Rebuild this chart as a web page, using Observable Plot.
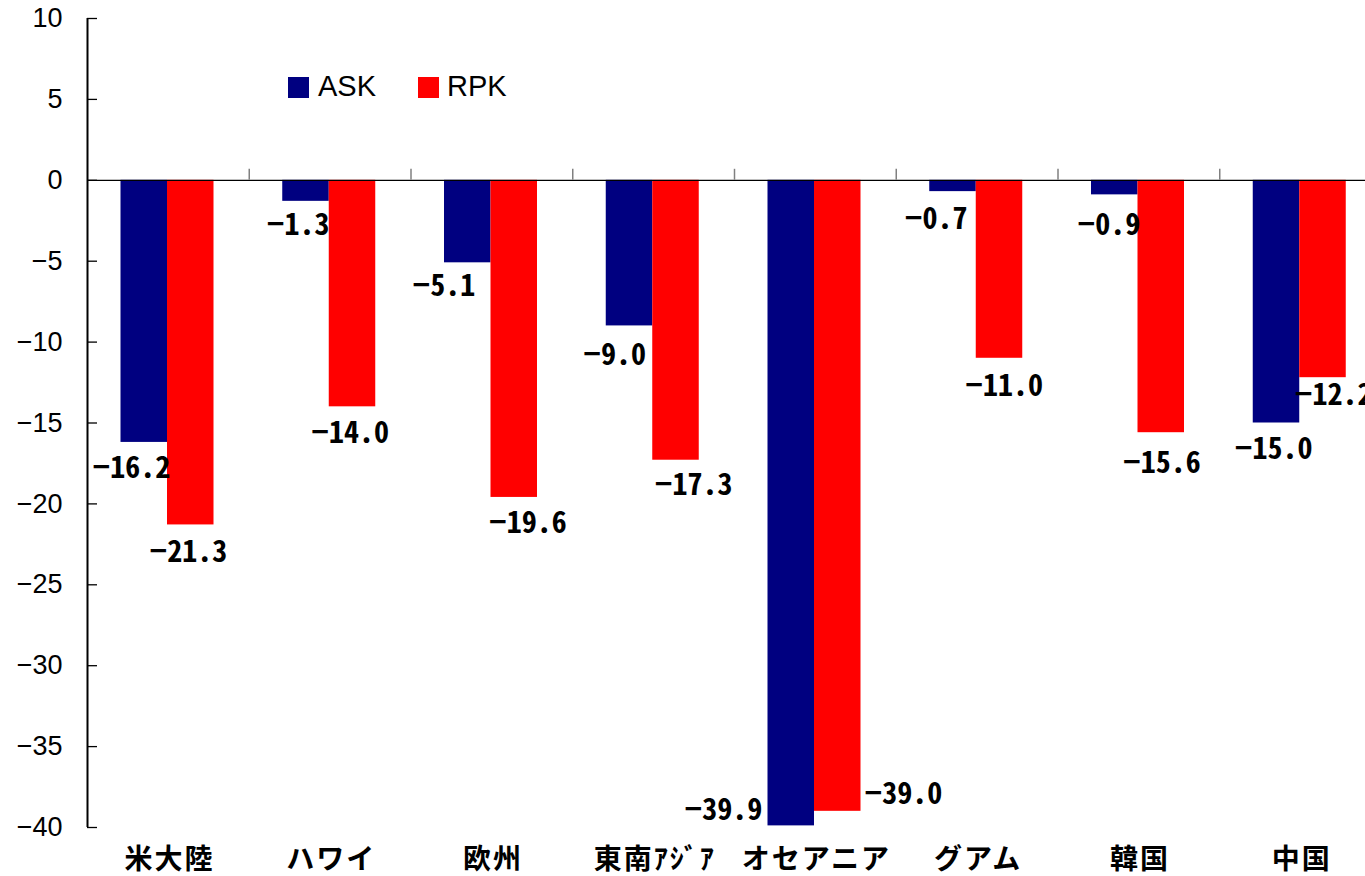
<!DOCTYPE html>
<html>
<head>
<meta charset="utf-8">
<script src="https://cdn.jsdelivr.net/npm/d3@7"></script>
<script src="https://cdn.jsdelivr.net/npm/@observablehq/plot@0.6"></script>
<style>
  html, body { margin: 0; padding: 0; background: #fff; overflow: hidden; }
  #wrap { position: relative; width: 1381px; height: 876px; }
  .key-swatch { position: absolute; width: 21px; height: 21px; }
  .key-label { position: absolute; font: 29px "Liberation Sans", Arial, sans-serif; line-height: 29px; color: #000; white-space: nowrap; }
  /* value labels use half-width digits */
  #wrap g[aria-label="text"] text { font-feature-settings: "hwid" 1; }
  #wrap g[aria-label="x-axis tick label"] text { letter-spacing: 2px; }
</style>
</head>
<body>
<div id="wrap"></div>
<script>
// Year-on-year change (%) by route region
const regions = ["米大陸", "ハワイ", "欧州", "東南ｱｼﾞｱ", "オセアニア", "グアム", "韓国", "中国"];
const askValues = [-16.2, -1.3, -5.1, -9.0, -39.9, -0.7, -0.9, -15.0];
const rpkValues = [-21.3, -14.0, -19.6, -17.3, -39.0, -11.0, -15.6, -12.2];
const seriesNames = ["ASK", "RPK"];
const seriesColors = ["#000080", "#ff0000"];
const yTicks = [10, 5, 0, -5, -10, -15, -20, -25, -30, -35, -40];
const yDomain = [-40, 10];

// Value-label nudges: [dx from the band centre, dy from the bar end], in px
const askLabelNudge = [[-37, 26], [-32, 24], [-48, 23.5], [-39, 29], [-92, -15], [-41, 28], [-30, 31], [-27, 26]];
const rpkLabelNudge = [[20, 27], [20, 26.5], [36, 26], [40, 25], [88, -17], [27, 28], [23, 31], [33, 18]];

// Layout
const W = 1381, H = 876;
const mL = 87, mR = 0, mT = 18, mB = 49;
const bw = (W - mL - mR) / regions.length;
const pxPerUnit = (H - mT - mB) / (yDomain[1] - yDomain[0]);
const barW = 46.5;
const groupLeft = 33.5;

const askRows = regions.map((region, i) => ({region, series: seriesNames[0], value: askValues[i]}));
const rpkRows = regions.map((region, i) => ({region, series: seriesNames[1], value: rpkValues[i]}));

const fmt = v => (v < 0 ? "\u2212" : "") + Math.abs(v).toFixed(1);
const valueFont = {fontFamily: "'Noto Sans CJK JP', sans-serif", fontWeight: "bold", fontSize: 30, fill: "#000"};

const labelMarks = [
  ...askRows.map((d, i) => Plot.text([d], {x: "region", y: "value", text: r => fmt(r.value),
    dx: askLabelNudge[i][0], dy: askLabelNudge[i][1], ...valueFont})),
  ...rpkRows.map((d, i) => Plot.text([d], {x: "region", y: "value", text: r => fmt(r.value),
    dx: rpkLabelNudge[i][0], dy: rpkLabelNudge[i][1], ...valueFont}))
];

const chart = Plot.plot({
  width: W,
  height: H,
  marginLeft: mL,
  marginRight: mR,
  marginTop: mT,
  marginBottom: mB,
  style: {maxWidth: "none", background: "#fff", overflow: "visible"},
  x: {type: "band", domain: regions, padding: 0, round: false, label: null},
  y: {domain: yDomain, label: null},
  marks: [
    Plot.barY(askRows, {x: "region", y1: 0, y2: "value", fill: seriesColors[0],
      insetLeft: groupLeft, insetRight: bw - groupLeft - barW}),
    Plot.barY(rpkRows, {x: "region", y1: 0, y2: "value", fill: seriesColors[1],
      insetLeft: groupLeft + barW, insetRight: bw - groupLeft - 2 * barW}),
    // zero line
    Plot.ruleY([0], {stroke: "#000", strokeWidth: 1.3}),
    // value axis line
    Plot.ruleX([regions[0]], {x: d => d, y1: yDomain[0], y2: yDomain[1], dx: -bw / 2, stroke: "#000", strokeWidth: 2}),
    // category separators above the zero line
    Plot.ruleX(regions.slice(1), {x: d => d, y1: 0, y2: 11 / pxPerUnit, dx: -bw / 2, stroke: "#808080", strokeWidth: 1.5}),
    // inward ticks on the value axis
    Plot.tickY(yTicks, {y: d => d, insetRight: W - mL - mR - 10, stroke: "#000", strokeWidth: 1.3}),
    Plot.axisY({ticks: yTicks, tickSize: 0, tickPadding: 25, fontSize: 27,
      fontFamily: "'Liberation Sans', Arial, sans-serif", label: null}),
    Plot.axisX({tickSize: 0, tickPadding: 22, fontSize: 28, fontWeight: "bold", dx: 1,
      fontFamily: "'Noto Sans CJK JP', sans-serif", label: null}),
    ...labelMarks
  ]
});

const wrap = document.getElementById("wrap");
wrap.appendChild(chart);

// Legend
const keyPos = [[288, 318], [418, 447]];
seriesNames.forEach((name, i) => {
  const sw = document.createElement("div");
  sw.className = "key-swatch";
  sw.style.left = keyPos[i][0] + "px";
  sw.style.top = "77px";
  sw.style.background = seriesColors[i];
  wrap.appendChild(sw);
  const lb = document.createElement("div");
  lb.className = "key-label";
  lb.style.left = keyPos[i][1] + "px";
  lb.style.top = "72px";
  lb.textContent = name;
  wrap.appendChild(lb);
});
</script>
</body>
</html>
